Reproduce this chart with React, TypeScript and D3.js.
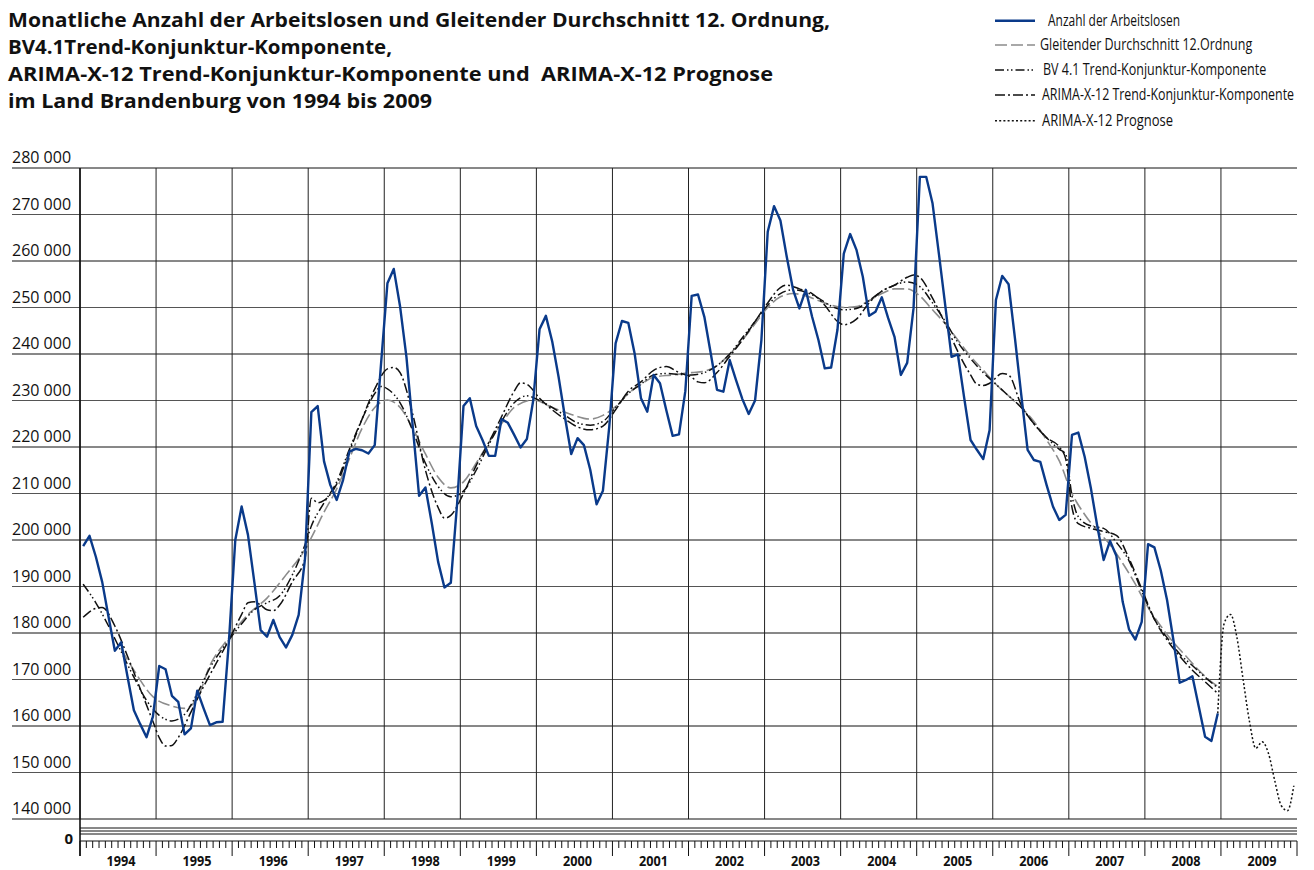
import React, { useLayoutEffect, useRef, useState } from "react";
import * as d3 from "d3";

// ---------- DATA (values in thousands) ----------
const yearLabels = ["1994","1995","1996","1997","1998","1999","2000","2001","2002","2003","2004","2005","2006","2007","2008","2009"];
const yTicks = [140000,150000,160000,170000,180000,190000,200000,210000,220000,230000,240000,250000,260000,270000,280000];

// Anzahl der Arbeitslosen, monthly Jan 1994 .. Dec 2008
const arbeitslose = [
  198.7, 200.9, 196.4, 191.0, 183.5, 176.2, 178.0, 170.6, 163.4, 160.4, 157.6, 162.0,
  172.9, 172.2, 166.5, 165.2, 158.2, 159.5, 167.6, 163.8, 160.2, 160.8, 160.9, 178.3,
  200.0, 207.2, 201.1, 191.0, 180.6, 179.2, 182.8, 179.1, 176.9, 179.6, 183.9, 196.0,
  227.5, 228.8, 216.9, 211.8, 208.6, 212.9, 219.0, 219.6, 219.3, 218.6, 220.4, 238.0,
  255.2, 258.3, 250.2, 239.4, 224.4, 209.5, 211.3, 203.6, 195.3, 189.8, 190.8, 207.9,
  228.8, 230.5, 224.5, 221.5, 218.1, 218.1, 226.0, 225.2, 222.6, 219.9, 221.7, 230.0,
  245.3, 248.2, 242.7, 235.1, 226.5, 218.5, 221.9, 220.4, 215.1, 207.7, 210.6, 224.4,
  242.3, 247.1, 246.7, 240.1, 230.5, 227.6, 235.5, 233.7, 227.9, 222.4, 222.7, 232.0,
  252.5, 252.8, 248.0, 240.2, 232.3, 231.9, 238.7, 234.4, 230.3, 227.1, 230.0, 243.0,
  266.3, 271.8, 268.7, 260.9, 253.8, 249.8, 253.8, 248.0, 243.0, 236.9, 237.1, 245.2,
  261.6, 265.8, 262.4, 256.6, 248.2, 249.1, 252.2, 247.7, 243.7, 235.5, 238.1, 249.8,
  278.1, 278.1, 272.4, 261.6, 250.5, 239.4, 239.9, 230.5, 221.5, 219.4, 217.4, 223.6,
  251.6, 256.8, 255.0, 243.4, 231.2, 219.4, 217.2, 216.8, 211.8, 207.2, 204.3, 205.4,
  222.6, 223.1, 217.9, 211.0, 202.9, 195.7, 199.8, 196.6, 186.7, 180.8, 178.6, 182.4,
  199.1, 198.4, 193.5, 187.1, 178.5, 169.3, 169.9, 170.7, 164.2, 157.7, 156.8, 162.7
];

// [month index since Jan 1994, value]
const gleitenderDurchschnitt: [number, number][] = [
  [6,176.5],[8,172],[11,166.3],[14,164.3],[16,163.8],[18,166],[20,173],[23,179],[26,184],[29,187.5],
  [32,192.5],[35,198],[36,200.5],[38,206],[40,211],[42,217.5],[44,224],[46,228.5],[48,230.1],[50,228.5],
  [52,224],[54,218.5],[56,213.5],[58,211.2],[60,212.5],[62,216.5],[64,221],[66,225],[68,228.5],[71,230.1],
  [74,228.5],[77,227],[80,226],[82,226.8],[84,228.7],[86,231.5],[88,233.5],[90,235],[93,235.5],[96,236],
  [98,236.3],[100,237.5],[102,240],[104,243],[106,246.5],[108,250],[110,252.3],[112,253],[114,252.5],[116,251.5],
  [118,250.5],[120,250],[122,250.2],[124,251.5],[126,253],[128,254],[130,254],[132,252.5],[134,249.5],[136,246.5],
  [138,243],[140,239.5],[142,236.5],[144,233.5],[146,231],[148,228.5],[150,225.5],[152,221.5],[154,217],[156,210],
  [158,205.5],[160,202],[162,199],[164,195],[166,190.5],[168,185.5],[170,181.5],[172,178],[174,175],[176,172],
  [178,169.5],[179,168.5]
];

const bv41Trend: [number, number][] = [
  [0,190.5],[2,186.5],[4,181.5],[6,176],[8,170.5],[10,165.5],[12,162.3],[14,161.1],[16,162.5],[18,167],
  [20,172.5],[23,178.5],[25,182],[27,185],[29,186.5],[31,188],[33,192.5],[35,199],[36,203],[38,208],
  [40,212.5],[42,219.5],[44,226],[46,231.5],[47,233],[48,232.5],[50,229.5],[52,223.5],[54,216.5],[56,211.5],
  [58,209.3],[60,210.5],[62,215],[64,220.5],[66,225.5],[68,229.5],[70,231],[72,230],[74,228.5],[76,226.8],
  [78,225.2],[80,224.7],[82,225.5],[84,228.5],[86,231.5],[88,233.5],[90,235.5],[92,235.8],[94,235.6],[96,235.5],
  [98,236],[100,237.5],[102,240],[104,243.5],[106,247],[108,250.5],[110,253],[112,253.8],[114,253.3],[116,252],
  [118,250.3],[120,249.5],[122,249.8],[124,251.5],[126,253.5],[128,254.8],[130,255.5],[132,254.5],[134,251],[136,247],
  [138,242.5],[140,239],[142,236],[144,233.5],[146,231],[148,228.5],[150,225],[152,222],[154,219.5],[155,218.5],
  [156,209.5],[157,205],[159,203],[161,202.5],[163,199.5],[165,195.5],[167,189],[169,183],[171,179],[173,175.5],
  [175,173],[177,170.5],[179,168.2]
];

const arimaTrend: [number, number][] = [
  [0,183.4],[2,185.3],[3,185.5],[5,181.5],[7,175],[9,168],[11,161],[12,157.5],[13,155.7],[14,155.8],
  [15,157.5],[17,163],[19,168.5],[21,173.5],[23,178.5],[25,184],[26,186.5],[27,186.7],[28,186],[29,185],
  [30,184.8],[31,186],[33,191],[35,196],[36,209],[37,208],[38,208.5],[40,212],[42,219],[44,226],
  [46,232.5],[48,236.8],[49,237.1],[50,236],[52,227],[54,215],[56,207],[57,204.7],[58,205.3],[60,210],
  [62,216],[64,221],[66,226.5],[68,232],[69,233.8],[70,233.5],[72,230.5],[74,228],[76,226],[78,224.3],
  [80,223.7],[82,224.5],[84,228],[86,232],[88,234],[90,236.5],[92,237.3],[94,236],[96,235],[97,234],
  [98,233.8],[100,236],[102,239.5],[104,243],[106,247],[108,251],[110,254.3],[111,254.8],[113,254],[115,253],
  [117,250.5],[119,247],[120,246.3],[122,247.5],[124,251],[126,253.5],[128,254.8],[130,256.5],[131,257],[132,256.5],
  [134,252],[136,246.5],[138,240.5],[140,235.5],[141,233.5],[142,233.2],[143,233.7],[145,235.8],[146,235.5],[148,229],
  [150,225],[152,222],[154,220],[155,217.5],[156,207],[157,203.5],[159,202.5],[161,201.8],[163,201],[165,196],
  [167,189.5],[169,183],[171,178.5],[173,175],[175,172],[177,169.5],[179,167]
];

const arimaPrognose: [number, number][] = [
  [179,162.7],[180,182],[181,184],[182,179.2],[183,170],[184,161],[185,155.2],[186,156.6],
  [187,154.1],[188,148.2],[189,142.9],[190,141.8],[191,147.2]
];

const titleLines = [
  "Monatliche Anzahl der Arbeitslosen und Gleitender Durchschnitt 12. Ordnung,",
  "BV4.1Trend-Konjunktur-Komponente,",
  "ARIMA-X-12 Trend-Konjunktur-Komponente und  ARIMA-X-12 Prognose",
  "im Land Brandenburg von 1994 bis 2009"
];
const legendLabels = [
  "Anzahl der Arbeitslosen",
  "Gleitender Durchschnitt 12.Ordnung",
  "BV 4.1 Trend-Konjunktur-Komponente",
  "ARIMA-X-12 Trend-Konjunktur-Komponente",
  "ARIMA-X-12 Prognose"
];

// ---------- LAYOUT ----------
const W = 1314, H = 870;
const left = 80, right = 1297, top = 168, bottom = 819;
const nMonths = yearLabels.length * 12;
const legendRowsY = [20.7, 45, 70, 95, 120.7];
const legendTextX = [1048, 1040, 1043, 1042, 1042];
const legendTextW = [132, 212, 223, 252, 131];
const titleW = [822, 384, 765, 424];

export default function App() {
  const legendRefs = useRef<(SVGTextElement | null)[]>([]);
  const [legendScale, setLegendScale] = useState<number[]>(legendLabels.map(() => 0.78));

  useLayoutEffect(() => {
    const s = legendRefs.current.map((el, i) => {
      if (!el) return 0.78;
      const len = el.getComputedTextLength();
      return len > 0 ? legendTextW[i] / len : 0.78;
    });
    setLegendScale(s);
  }, []);

  const x = d3.scaleLinear().domain([0, nMonths]).range([left, right]);
  const y = d3.scaleLinear().domain([140000, 280000]).range([bottom, top]);
  const loc = d3.formatLocale({ decimal: ",", thousands: " ", grouping: [3], currency: ["", " €"] });
  const fmt = loc.format(",");

  const lineLin = d3.line<[number, number]>()
    .x(d => x(d[0] + 0.5)).y(d => y(d[1] * 1000));
  const lineSmooth = d3.line<[number, number]>()
    .x(d => x(d[0] + 0.5)).y(d => y(d[1] * 1000)).curve(d3.curveMonotoneX);

  const blueData: [number, number][] = arbeitslose.map((v, i) => [i, v]);

  const styles = {
    blue: { stroke: "#0a3a8a", strokeWidth: 2.4, dash: "" },
    ma: { stroke: "#8c8c8c", strokeWidth: 1.6, dash: "12 4" },
    bv: { stroke: "#111", strokeWidth: 1.5, dash: "9 3 1.5 2.5 1.5 3" },
    ar: { stroke: "#111", strokeWidth: 1.5, dash: "10 3 2 3" },
    pr: { stroke: "#111", strokeWidth: 1.5, dash: "2 2.2" },
  };
  const legendStyles = [styles.blue, styles.ma, styles.bv, styles.ar, styles.pr];

  const yearTicks = d3.range(0, yearLabels.length + 1).map(k => k * 12);
  const monthTicks = d3.range(0, nMonths + 1);

  const font = "'Open Sans', 'Noto Sans', sans-serif";

  return (
    <svg width={W} height={H} style={{ position: "absolute", left: 0, top: 0, background: "#fff" }}
      fontFamily={font}>
      {/* title */}
      {titleLines.map((t, i) => (
        <text key={i} x={8} y={27 + i * 27} fontSize={19} fontWeight={700} fill="#111"
          textLength={titleW[i]} lengthAdjust="spacingAndGlyphs" style={{ whiteSpace: "pre" }}>{t}</text>
      ))}

      {/* legend */}
      {legendLabels.map((t, i) => (
        <g key={i}>
          <line x1={995} x2={1035} y1={legendRowsY[i]} y2={legendRowsY[i]}
            stroke={legendStyles[i].stroke} strokeWidth={legendStyles[i].strokeWidth}
            strokeDasharray={legendStyles[i].dash} />
          <text ref={el => { legendRefs.current[i] = el; }}
            transform={`translate(${legendTextX[i]},${legendRowsY[i] + 5}) scale(${legendScale[i]},1)`}
            x={0} y={0} fontSize={16} fill="#111">{t}</text>
        </g>
      ))}

      {/* horizontal gridlines and y labels */}
      {yTicks.map((v, i) => (
        <g key={v}>
          <line x1={12} x2={right} y1={y(v)} y2={y(v)} stroke={i % 2 ? "#555" : "#111"} strokeWidth={1} />
          <text x={12} y={y(v) - 5} fontSize={16} fill="#111">{fmt(v)}</text>
        </g>
      ))}

      {/* vertical year gridlines */}
      {yearTicks.slice(0, -1).map(m => (
        <line key={m} x1={x(m)} x2={x(m)} y1={top} y2={bottom} stroke="#222" strokeWidth={1} />
      ))}
      <line x1={left} x2={left} y1={top} y2={856} stroke="#111" strokeWidth={1.6} />

      {/* axis break */}
      {[828, 831, 834].map(yy => (
        <line key={yy} x1={left} x2={right} y1={yy} y2={yy} stroke="#111" strokeWidth={1} />
      ))}
      <text x={73} y={844} fontSize={15} fontWeight={700} textAnchor="end" fill="#111">0</text>

      {/* bottom axis */}
      <line x1={left} x2={right} y1={841} y2={841} stroke="#111" strokeWidth={1} />
      {monthTicks.map(m => (
        <line key={m} x1={x(m)} x2={x(m)} y1={841} y2={m % 12 === 0 ? 856 : 848} stroke="#111" strokeWidth={1} />
      ))}
      {yearLabels.map((t, k) => (
        <text key={t} x={x(k * 12 + 6) + 3} y={866} fontSize={15} fontWeight={700} textAnchor="middle"
          fill="#111" textLength={29} lengthAdjust="spacingAndGlyphs">{t}</text>
      ))}

      {/* series */}
      <path d={lineSmooth(gleitenderDurchschnitt) || ""} fill="none" stroke={styles.ma.stroke}
        strokeWidth={styles.ma.strokeWidth} strokeDasharray={styles.ma.dash} />
      <path d={lineSmooth(bv41Trend) || ""} fill="none" stroke={styles.bv.stroke}
        strokeWidth={styles.bv.strokeWidth} strokeDasharray={styles.bv.dash} />
      <path d={lineSmooth(arimaTrend) || ""} fill="none" stroke={styles.ar.stroke}
        strokeWidth={styles.ar.strokeWidth} strokeDasharray={styles.ar.dash} />
      <path d={lineSmooth(arimaPrognose) || ""} fill="none" stroke={styles.pr.stroke}
        strokeWidth={styles.pr.strokeWidth} strokeDasharray={styles.pr.dash} />
      <path d={lineLin(blueData) || ""} fill="none" stroke={styles.blue.stroke}
        strokeWidth={styles.blue.strokeWidth} strokeLinejoin="round" />
    </svg>
  );
}
